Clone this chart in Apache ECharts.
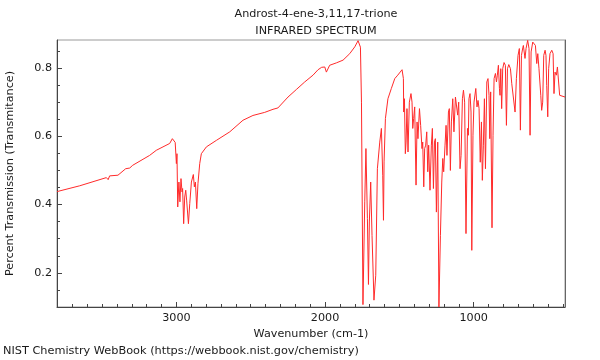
<!DOCTYPE html>
<html>
<head>
<meta charset="utf-8">
<script src="https://cdn.jsdelivr.net/npm/echarts@6/dist/echarts.min.js"></script>
<style>html,body{margin:0;padding:0;background:#fff}#c{width:600px;height:360px}</style>
</head>
<body>
<div id="c"></div>
<script>
var titleLines = ['Androst-4-ene-3,11,17-trione', 'INFRARED SPECTRUM'];
var xName = 'Wavenumber (cm-1)';
var yName = 'Percent Transmission (Transmitance)';
var footer = 'NIST Chemistry WebBook (https://webbook.nist.gov/chemistry)';
var xMajorTicks = [1000, 2000, 3000];
var xMinorTicks = [400,500,600,700,800,900,1000,1100,1200,1300,1400,1500,1600,1700,1800,1900,2000,2100,2200,2300,2400,2500,2600,2700,2800,2900,3000,3100,3200,3300,3400,3500,3600,3700,3800];
var yMajorTicks = [0.2, 0.4, 0.6, 0.8];
var yMinorTicks = [0.1,0.15,0.2,0.25,0.3,0.35,0.4,0.45,0.5,0.55,0.6,0.65,0.7,0.75,0.8,0.85];
var xRange = [386, 3803];
var yRange = [0.1, 0.882];
// [wavenumber (cm-1), transmittance]
var spectrum = [
[3803,0.438],[3650,0.455],[3471,0.479],[3459,0.473],[3449,0.484],[3393,0.486],[3341,0.505],[3314,0.507],[3294,0.515],
[3180,0.544],[3135,0.559],[3090,0.569],[3045,0.579],[3027,0.593],[3016,0.596],[3008,0.582],[3000,0.520],[2996,0.549],
[2991,0.393],[2983,0.466],[2976,0.408],[2969,0.476],[2962,0.437],[2958,0.447],[2951,0.344],[2944,0.422],[2937,0.442],
[2931,0.413],[2919,0.344],[2910,0.403],[2899,0.466],[2886,0.488],[2879,0.452],[2872,0.466],[2863,0.388],[2855,0.461],
[2843,0.520],[2832,0.549],[2798,0.569],[2731,0.588],[2641,0.613],[2552,0.647],[2485,0.661],[2406,0.670],[2350,0.679],
[2339,0.675],[2317,0.683],[2249,0.715],[2193,0.737],[2137,0.759],[2081,0.779],[2047,0.795],[2023,0.802],[2002,0.803],
[1991,0.788],[1982,0.792],[1969,0.808],[1957,0.803],[1924,0.815],[1879,0.823],[1834,0.842],[1800,0.862],[1778,0.880],
[1762,0.861],[1755,0.700],[1745,0.107],[1733,0.408],[1725,0.564],[1715,0.359],[1708,0.166],[1702,0.349],[1693,0.466],
[1684,0.310],[1671,0.120],[1659,0.193],[1648,0.505],[1632,0.583],[1621,0.623],[1612,0.486],[1607,0.354],[1603,0.525],
[1594,0.652],[1577,0.710],[1554,0.740],[1531,0.769],[1511,0.779],[1482,0.795],[1473,0.769],[1471,0.671],[1466,0.710],
[1460,0.549],[1455,0.583],[1449,0.681],[1442,0.554],[1433,0.700],[1422,0.725],[1415,0.700],[1410,0.623],[1404,0.652],
[1397,0.686],[1388,0.457],[1381,0.642],[1375,0.593],[1365,0.681],[1357,0.632],[1348,0.564],[1343,0.583],[1336,0.452],
[1330,0.564],[1323,0.574],[1316,0.613],[1309,0.496],[1303,0.574],[1294,0.442],[1285,0.574],[1278,0.623],[1271,0.447],
[1264,0.583],[1258,0.593],[1251,0.378],[1242,0.583],[1234,0.100],[1224,0.310],[1215,0.466],[1208,0.535],[1202,0.496],
[1193,0.574],[1186,0.632],[1180,0.544],[1170,0.671],[1164,0.681],[1157,0.500],[1150,0.642],[1141,0.710],[1133,0.613],
[1123,0.715],[1114,0.720],[1108,0.662],[1101,0.700],[1092,0.505],[1085,0.544],[1076,0.710],[1069,0.735],[1061,0.700],
[1052,0.315],[1042,0.623],[1036,0.603],[1032,0.710],[1025,0.725],[1018,0.671],[1013,0.266],[1005,0.603],[998,0.700],
[986,0.740],[978,0.686],[971,0.705],[964,0.681],[956,0.524],[948,0.642],[942,0.471],[935,0.574],[928,0.710],
[921,0.505],[912,0.759],[904,0.769],[897,0.720],[892,0.593],[886,0.730],[877,0.332],[870,0.603],[863,0.769],
[854,0.784],[847,0.759],[841,0.779],[834,0.808],[827,0.740],[823,0.720],[818,0.798],[812,0.681],[805,0.798],
[796,0.816],[787,0.808],[780,0.632],[773,0.798],[764,0.810],[753,0.798],[744,0.754],[733,0.749],[722,0.671],
[713,0.769],[702,0.837],[693,0.857],[686,0.618],[679,0.837],[670,0.859],[666,0.866],[655,0.828],[648,0.857],
[637,0.881],[628,0.857],[621,0.603],[614,0.847],[603,0.876],[594,0.881],[585,0.866],[576,0.813],[569,0.842],
[561,0.798],[549,0.720],[543,0.676],[536,0.700],[529,0.837],[520,0.852],[514,0.837],[509,0.749],[502,0.657],
[496,0.798],[487,0.842],[475,0.852],[466,0.842],[460,0.725],[453,0.788],[444,0.779],[437,0.803],[430,0.798],
[422,0.720],[413,0.715],[386,0.715]
];

var FONT = 'DejaVu Sans';
var TXT = '#1a1a1a';
var chart = echarts.init(document.getElementById('c'), null, {renderer: 'canvas'});
chart.setOption({
  animation: false,
  backgroundColor: '#ffffff',
  textStyle: {fontFamily: FONT},
  title: {
    text: titleLines.join('\n'),
    left: 311, top: 1, textAlign: 'center',
    textStyle: {fontFamily: FONT, fontSize: 11.2, fontWeight: 'normal', color: TXT, lineHeight: 17}
  },
  grid: {left: 57, right: 35, top: 40, bottom: 53, containLabel: false, outerBoundsMode: 'none',
    show: true, borderColor: '#9a9a9a', borderWidth: 1, backgroundColor: 'transparent'},
  xAxis: [{
    type: 'value', inverse: true, min: xRange[0], max: xRange[1], position: 'bottom',
    name: xName, nameLocation: 'middle', nameGap: 21,
    nameTextStyle: {fontFamily: FONT, fontSize: 11.2, color: TXT},
    axisLine: {show: true, lineStyle: {color: '#444', width: 1}},
    axisTick: {show: true, inside: true, length: 5, customValues: xMajorTicks, lineStyle: {color: '#444'}},
    axisLabel: {customValues: xMajorTicks, fontFamily: FONT, fontSize: 11.2, color: TXT, margin: 6,
      formatter: function (v) { return String(v); }},
    splitLine: {show: false}
  }, {
    type: 'value', inverse: true, min: xRange[0], max: xRange[1], position: 'bottom',
    axisLine: {show: false},
    axisTick: {show: true, inside: true, length: 3, customValues: xMinorTicks, lineStyle: {color: '#444'}},
    axisLabel: {show: false},
    splitLine: {show: false}
  }],
  yAxis: [{
    type: 'value', min: yRange[0], max: yRange[1], position: 'left',
    name: yName, nameLocation: 'middle', nameGap: 41,
    nameTextStyle: {fontFamily: FONT, fontSize: 11.2, color: TXT},
    axisLine: {show: true, lineStyle: {color: '#444', width: 1}},
    axisTick: {show: true, inside: true, length: 5, customValues: yMajorTicks, lineStyle: {color: '#444'}},
    axisLabel: {customValues: yMajorTicks, fontFamily: FONT, fontSize: 11.2, color: TXT, margin: 5,
      formatter: function (v) { return v.toFixed(1); }},
    splitLine: {show: false}
  }, {
    type: 'value', min: yRange[0], max: yRange[1], position: 'left',
    axisLine: {show: false},
    axisTick: {show: true, inside: true, length: 3, customValues: yMinorTicks, lineStyle: {color: '#444'}},
    axisLabel: {show: false},
    splitLine: {show: false}
  }, {
    type: 'value', min: yRange[0], max: yRange[1], position: 'right',
    axisLine: {show: true, lineStyle: {color: '#666', width: 1}},
    axisTick: {show: false}, axisLabel: {show: false}, splitLine: {show: false}
  }],
  graphic: [{
    type: 'text', left: 3, top: 346,
    style: {text: footer, font: '11.3px "DejaVu Sans"', fill: TXT}
  }],
  series: [{
    type: 'line', xAxisIndex: 0, yAxisIndex: 0,
    data: spectrum, showSymbol: false, symbol: 'none', clip: true,
    lineStyle: {color: '#ff2a2a', width: 1}
  }]
});
</script>
</body>
</html>
